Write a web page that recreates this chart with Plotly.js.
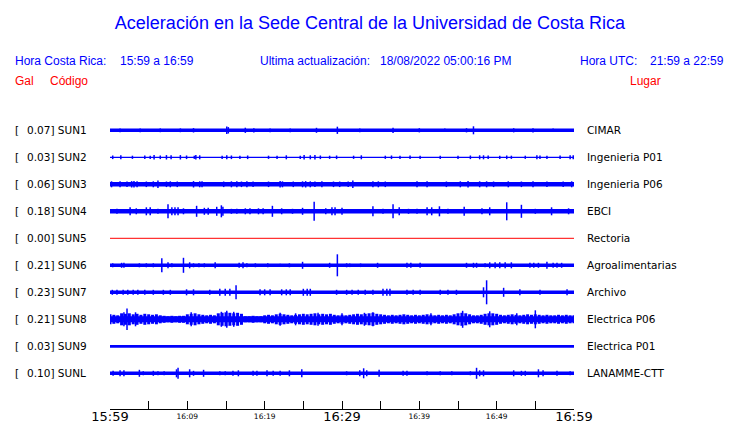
<!DOCTYPE html>
<html>
<head>
<meta charset="utf-8">
<script src="https://cdn.plot.ly/plotly-3.0.1.min.js"></script>
<style>html,body{margin:0;padding:0;background:#fff;}#chart{width:740px;height:423px;}</style>
</head>
<body>
<div id="chart"></div>
<script>
// ---------------- DATA ----------------
const codes = ["SUN1","SUN2","SUN3","SUN4","SUN5","SUN6","SUN7","SUN8","SUN9","SUNL"];
const peakGal = [0.07,0.03,0.06,0.18,0.00,0.21,0.23,0.21,0.03,0.10];
const places = ["CIMAR","Ingenieria P01","Ingenieria P06","EBCI","Rectoria","Agroalimentarias","Archivo","Electrica P06","Electrica P01","LANAMME-CTT"];
// background noise half-amplitude (display counts) per station
const noiseAmp = [1.7,0.6,2.2,2.2,0,1.8,1.8,3.0,1.4,1.7];

// tick marks (minutes after 15:59) and labels
const tickMinutes = [0,5,10,15,20,25,30,35,40,45,50,55,60];
const tickLabels = ["15:59","","16:09","","16:19","","16:29","","16:39","","16:49","","16:59"];
const majorTicks = ["15:59","16:29","16:59"];

// bursts: [minute, half-amplitude in display counts]
const SUN1_events = [[1.3,1.9],[3.9,1.9],[6.5,1.9],[9.1,1.9],[10.8,2.2],[15.1,3.7],[15.3,3.2],[17.5,2.6],[18.6,2.1],[20.7,1.9],[23.3,1.9],[26.7,2.5],[29.4,3.6],[32.3,1.9],[36.6,2.6],[40.0,2.1],[43.3,1.8],[46.1,2.1],[47.0,4.0],[52.2,2.1],[54.7,2.1],[57.3,1.8]];
const SUN2_events = [[0.35,1.8],[1.4,2.0],[2.9,1.6],[4.5,1.8],[5.2,1.6],[5.7,2.2],[6.5,1.8],[7.3,2.2],[7.9,2.0],[9.1,2.2],[9.9,1.8],[10.9,1.6],[11.1,2.2],[11.6,2.0],[14.5,1.6],[15.1,2.0],[15.7,1.8],[16.8,1.6],[17.8,1.8],[20.5,1.6],[21.6,1.6],[22.8,2.0],[24.6,1.6],[25.1,2.2],[25.9,2.0],[26.5,2.2],[27.2,1.8],[28.4,1.6],[29.3,1.8],[31.5,1.6],[32.5,2.0],[35.6,1.6],[36.4,1.8],[37.5,1.6],[38.8,1.8],[40.1,1.6],[42.7,1.6],[45.0,1.6],[46.6,1.8],[47.8,2.0],[48.3,2.0],[48.9,1.8],[50.4,1.6],[51.3,1.8],[51.9,1.6],[53.7,1.6],[55.2,2.0],[55.6,1.8],[56.5,1.6],[58.2,1.8],[59.5,2.0],[59.9,2.0]];
const SUN3_events = [[0.2,3.0],[1.3,3.0],[2.2,2.8],[2.8,3.2],[3.1,3.2],[3.5,3.0],[4.7,2.8],[5.6,3.0],[6.2,3.8],[7.3,2.8],[7.8,3.0],[8.7,2.8],[10.8,3.2],[11.6,3.0],[11.9,3.0],[14.7,2.8],[15.7,3.0],[16.4,3.0],[17.0,2.8],[17.7,3.0],[18.5,2.8],[20.5,2.8],[22.0,3.2],[22.3,3.0],[23.7,2.8],[24.9,3.0],[25.3,3.2],[25.9,3.0],[26.5,2.8],[27.4,3.0],[28.9,2.8],[29.7,2.8],[30.8,2.8],[31.4,3.8],[34.0,3.0],[34.7,3.0],[35.6,2.8],[39.7,3.0],[41.0,3.0],[43.5,2.8],[45.3,3.0],[46.3,3.2],[47.8,3.0],[48.7,3.0],[49.6,2.8],[51.5,3.0],[53.2,2.8],[54.7,3.0],[56.5,2.8],[58.6,2.8],[59.7,3.0]];
const SUN4_events = [[0.9,2.5],[2.6,4.0],[3.4,3.0],[4.7,4.0],[5.2,4.0],[6.2,2.5],[7.5,7.0],[8.0,4.0],[8.4,4.0],[8.8,4.0],[9.5,3.0],[11.2,5.5],[12.2,3.5],[12.7,3.5],[13.8,4.5],[14.4,6.0],[14.6,4.5],[15.7,2.5],[16.4,2.5],[17.5,3.0],[18.1,3.0],[19.2,3.0],[19.8,3.0],[21.0,5.5],[22.2,3.0],[23.6,2.5],[24.9,3.5],[26.4,9.5],[27.9,3.0],[28.7,4.0],[29.1,4.0],[30.0,3.5],[34.0,5.0],[35.3,2.5],[36.6,7.0],[37.4,4.0],[38.6,2.5],[39.7,2.5],[41.0,4.0],[41.6,4.0],[42.6,5.0],[43.7,2.5],[45.8,4.5],[48.1,3.0],[49.1,4.0],[51.3,9.0],[53.2,6.5],[55.0,2.5],[57.1,4.0],[59.3,3.0]];
const SUN5_events = [];
const SUN6_events = [[0.35,2.0],[1.5,2.5],[1.8,2.5],[3.8,2.0],[4.7,2.0],[5.6,2.0],[6.7,7.0],[7.5,3.0],[8.0,2.0],[9.5,7.5],[10.3,3.0],[10.8,2.0],[11.5,2.0],[12.2,2.0],[13.6,3.0],[16.7,2.5],[17.2,3.0],[17.7,2.0],[18.8,2.0],[20.4,2.0],[22.0,1.5],[23.2,2.0],[24.9,3.5],[28.4,2.5],[29.4,11.0],[30.6,2.0],[31.0,1.8],[32.4,1.8],[34.6,2.5],[38.4,2.5],[38.9,2.5],[40.1,2.5],[46.1,2.5],[47.0,2.5],[47.4,2.5],[48.5,2.0],[49.1,3.0],[49.8,3.0],[50.4,3.0],[51.1,3.0],[51.9,3.0],[54.3,2.5],[54.8,2.5],[55.4,2.5],[56.5,3.5],[57.3,2.5],[57.8,2.5],[58.4,2.5]];
const SUN7_events = [[0.3,2.5],[0.9,2.5],[1.7,2.5],[2.3,2.5],[3.0,2.5],[3.6,2.5],[4.5,2.5],[5.6,2.5],[6.9,2.5],[7.8,2.5],[9.9,3.0],[10.8,3.0],[12.9,2.5],[14.2,3.5],[14.9,3.5],[15.5,3.5],[16.3,7.0],[19.4,3.0],[20.0,3.0],[20.7,3.0],[22.2,3.0],[22.8,3.0],[23.3,3.0],[25.0,3.5],[25.5,3.5],[25.9,3.5],[29.3,2.5],[30.6,2.5],[31.3,2.5],[32.1,2.5],[33.0,2.5],[34.0,2.5],[35.3,3.5],[35.8,3.5],[36.2,3.5],[38.4,2.5],[39.2,2.5],[40.1,2.5],[42.7,2.5],[43.7,2.5],[44.8,2.5],[48.3,5.0],[48.7,12.0],[50.9,4.5],[53.0,3.0],[55.6,2.5],[59.1,3.0]];
// SUN8: envelope every 0.5 min (0 .. 60) plus isolated peaks
const SUN8_envelope = [
  5,4.5,4,6,5.5,6,5,5.5,4.5,5.5,
  5,4.5,5,4,3.5,3,3.5,3,3.5,3.5,
  5,5.5,6,5,4.5,4,4.5,4,6,6.5,
  7,6.5,6,6.5,5.5,3,3,3.5,3,3,
  4,4.5,4,5,5.5,5,4.5,4,4.5,5,
  5.5,5,5.5,6,5,5.5,5,5.5,4.5,4,
  4.5,4,4.5,5,5.5,5,5.5,6,6.5,5.5,
  5,4.5,4,4.5,4,4.5,5,4.5,4,4.5,
  4,4.5,5,4.5,4,4.5,4,4.5,4,5,
  6,6.5,6,5,4,4,4.5,5.5,6,6,
  5.5,4.5,4,4.5,5,4.5,4,4.5,5,4.5,
  5,4.5,4,4.5,4,4,4.5,4,4.5,4,
  4];
const SUN8_events = [[1.8,7.0],[2.2,10.7],[3.3,7.0],[10.5,7.0],[14.4,7.5],[15.1,8.5],[16.0,7.5],[22.0,6.5],[24.0,6.0],[26.9,6.5],[30.0,6.0],[32.9,6.5],[34.0,7.0],[41.5,6.0],[45.6,8.5],[49.1,8.0],[52.6,6.0],[55.0,9.0]];
const SUN9_events = [];
const SUNL_events = [[0.4,2.5],[1.3,3.0],[1.8,3.0],[3.8,3.5],[4.3,2.0],[5.6,2.5],[6.2,2.0],[7.0,2.0],[8.6,4.0],[8.8,5.5],[10.3,4.0],[10.8,2.5],[12.1,3.5],[14.2,2.0],[14.9,2.0],[15.9,2.5],[16.6,3.0],[18.5,2.5],[19.0,2.5],[20.3,3.0],[21.1,2.5],[22.0,2.5],[23.2,3.0],[24.8,4.0],[30.6,2.0],[32.3,3.0],[32.8,5.0],[33.2,3.0],[34.8,3.5],[37.9,2.5],[38.4,2.5],[41.0,2.0],[42.7,2.0],[44.2,2.0],[46.6,2.0],[47.4,5.5],[47.8,3.0],[48.3,3.0],[52.2,3.0],[53.2,2.5],[53.7,2.5],[55.4,4.0],[56.0,3.0],[57.8,2.5],[59.5,2.0]];
const allEvents = [SUN1_events,SUN2_events,SUN3_events,SUN4_events,SUN5_events,SUN6_events,SUN7_events,SUN8_events,SUN9_events,SUNL_events];

// ---------------- STYLE / GEOMETRY ----------------
const BLUE = "#0000ff", RED = "#ff0000";
const ROW_PX = 27;              // pixel spacing between rows
const S = 1 / ROW_PX;           // display counts -> row units
const PLOT_L = 110, PLOT_R = 574, PLOT_T = 116, PLOT_B = 409;
const W = 740, H = 423;
const FIRST_ROW_PX = 130.3;
const yTop = -(FIRST_ROW_PX - PLOT_T) / ROW_PX;
const yBot = (PLOT_B - FIRST_ROW_PX) / ROW_PX;
const px2paperX = px => (px - PLOT_L) / (PLOT_R - PLOT_L);
const px2paperY = py => (PLOT_B - py) / (PLOT_B - PLOT_T);
const T0 = tickMinutes[0], T1 = tickMinutes[tickMinutes.length - 1];

const traces = [];
codes.forEach((code, i) => {
  const color = peakGal[i] === 0 ? RED : BLUE;
  const b = noiseAmp[i];
  if (b === 0) {
    traces.push({type:"scatter", mode:"lines", x:[T0,T1], y:[i,i], line:{color, width:1}, hoverinfo:"skip"});
  } else {
    traces.push({type:"scatter", mode:"lines", x:[T0,T1,T1,T0], y:[i-b*S,i-b*S,i+b*S,i+b*S],
      fill:"toself", fillcolor:color, line:{width:0, color}, hoverinfo:"skip"});
  }
  const ev = allEvents[i];
  if (ev.length) {
    const x = [], y = [];
    ev.forEach(([t,a]) => { x.push(t,t,null); y.push(i-a*S, i+a*S, null); });
    traces.push({type:"scatter", mode:"lines", x, y, line:{color, width:1.5}, hoverinfo:"skip", connectgaps:false});
  }
});
// SUN8 envelope as blocky sticks
(function(){
  const i = codes.indexOf("SUN8");
  const x = [], y = [];
  SUN8_envelope.forEach((a, k) => { const t = k * 0.5; x.push(t,t,null); y.push(i-a*S, i+a*S, null); });
  traces.push({type:"scatter", mode:"lines", x, y, line:{color:BLUE, width:3}, hoverinfo:"skip"});
})();
// empty trace to register the secondary (minor-label) axis
traces.push({type:"scatter", mode:"lines", x:[], y:[], xaxis:"x2", yaxis:"y", hoverinfo:"skip"});

const fontHead = "Liberation Sans, Arial, sans-serif";
const fontMono = "DejaVu Sans, sans-serif";
const annotations = [];
function ann(text, px, py, color, size, family, yref) {
  annotations.push({text, xref:"paper", x:px2paperX(px - 1), xanchor:"left",
    yref: yref ? "y" : "paper", y: yref ? py : px2paperY(py), yanchor:"middle",
    showarrow:false, font:{color, size, family}, borderpad:0});
}
// header
ann("Hora Costa Rica:", 15, 61, BLUE, 12, fontHead);
ann("15:59 a 16:59", 120, 61, BLUE, 12, fontHead);
ann("Ultima actualización:", 260, 61, BLUE, 12, fontHead);
ann("18/08/2022 05:00:16 PM", 380, 61, BLUE, 12, fontHead);
ann("Hora UTC:", 580, 61, BLUE, 12, fontHead);
ann("21:59 a 22:59", 650, 61, BLUE, 12, fontHead);
ann("Gal", 15, 81, RED, 12, fontHead);
ann("Código", 50, 81, RED, 12, fontHead);
ann("Lugar", 630, 81, RED, 12, fontHead);
// row labels
codes.forEach((code, i) => {
  ann("[", 15, i, "#000", 10.5, fontMono, true);
  ann(peakGal[i].toFixed(2) + "] " + code, 27, i, "#000", 10.5, fontMono, true);
  ann(places[i], 587, i, "#000", 10.5, fontMono, true);
});

const majorText = tickLabels.map(l => majorTicks.includes(l) ? l : "");
const minorVals = [], minorText = [];
tickLabels.forEach((l, k) => { if (l !== "" && !majorTicks.includes(l)) { minorVals.push(tickMinutes[k]); minorText.push(l); } });

const layout = {
  width: W, height: H,
  margin: {l: PLOT_L, r: W - PLOT_R, t: PLOT_T, b: H - PLOT_B, pad: 0},
  paper_bgcolor: "#fff", plot_bgcolor: "#fff",
  showlegend: false, hovermode: false,
  title: {text: "Aceleración en la Sede Central de la Universidad de Costa Rica",
    font: {family: fontHead, size: 18, color: BLUE}, x: 0.5, xref: "container", xanchor: "center",
    y: 1 - 22.5 / H, yref: "container", yanchor: "middle"},
  xaxis: {range: [T0, T1], tickmode: "array", tickvals: tickMinutes, ticktext: majorText,
    ticks: "inside", ticklen: 8, tickwidth: 1, tickcolor: "#000", showline: true, linecolor: "#000", linewidth: 1,
    showgrid: false, zeroline: false, fixedrange: true, tickangle: 0, ticklabelstandoff: -5,
    tickfont: {family: fontMono, size: 13, color: "#000"}},
  xaxis2: {range: [T0, T1], overlaying: "x", anchor: "y", side: "bottom", tickmode: "array",
    tickvals: minorVals, ticktext: minorText, ticks: "", showline: false, showgrid: false, zeroline: false,
    fixedrange: true, tickangle: 0, ticklabelstandoff: 1,
    tickfont: {family: fontMono, size: 7.5, color: "#000"}},
  yaxis: {range: [yBot, yTop], visible: false, showgrid: false, zeroline: false, fixedrange: true},
  annotations
};
Plotly.newPlot("chart", traces, layout, {staticPlot: true, displayModeBar: false});
</script>
</body>
</html>
